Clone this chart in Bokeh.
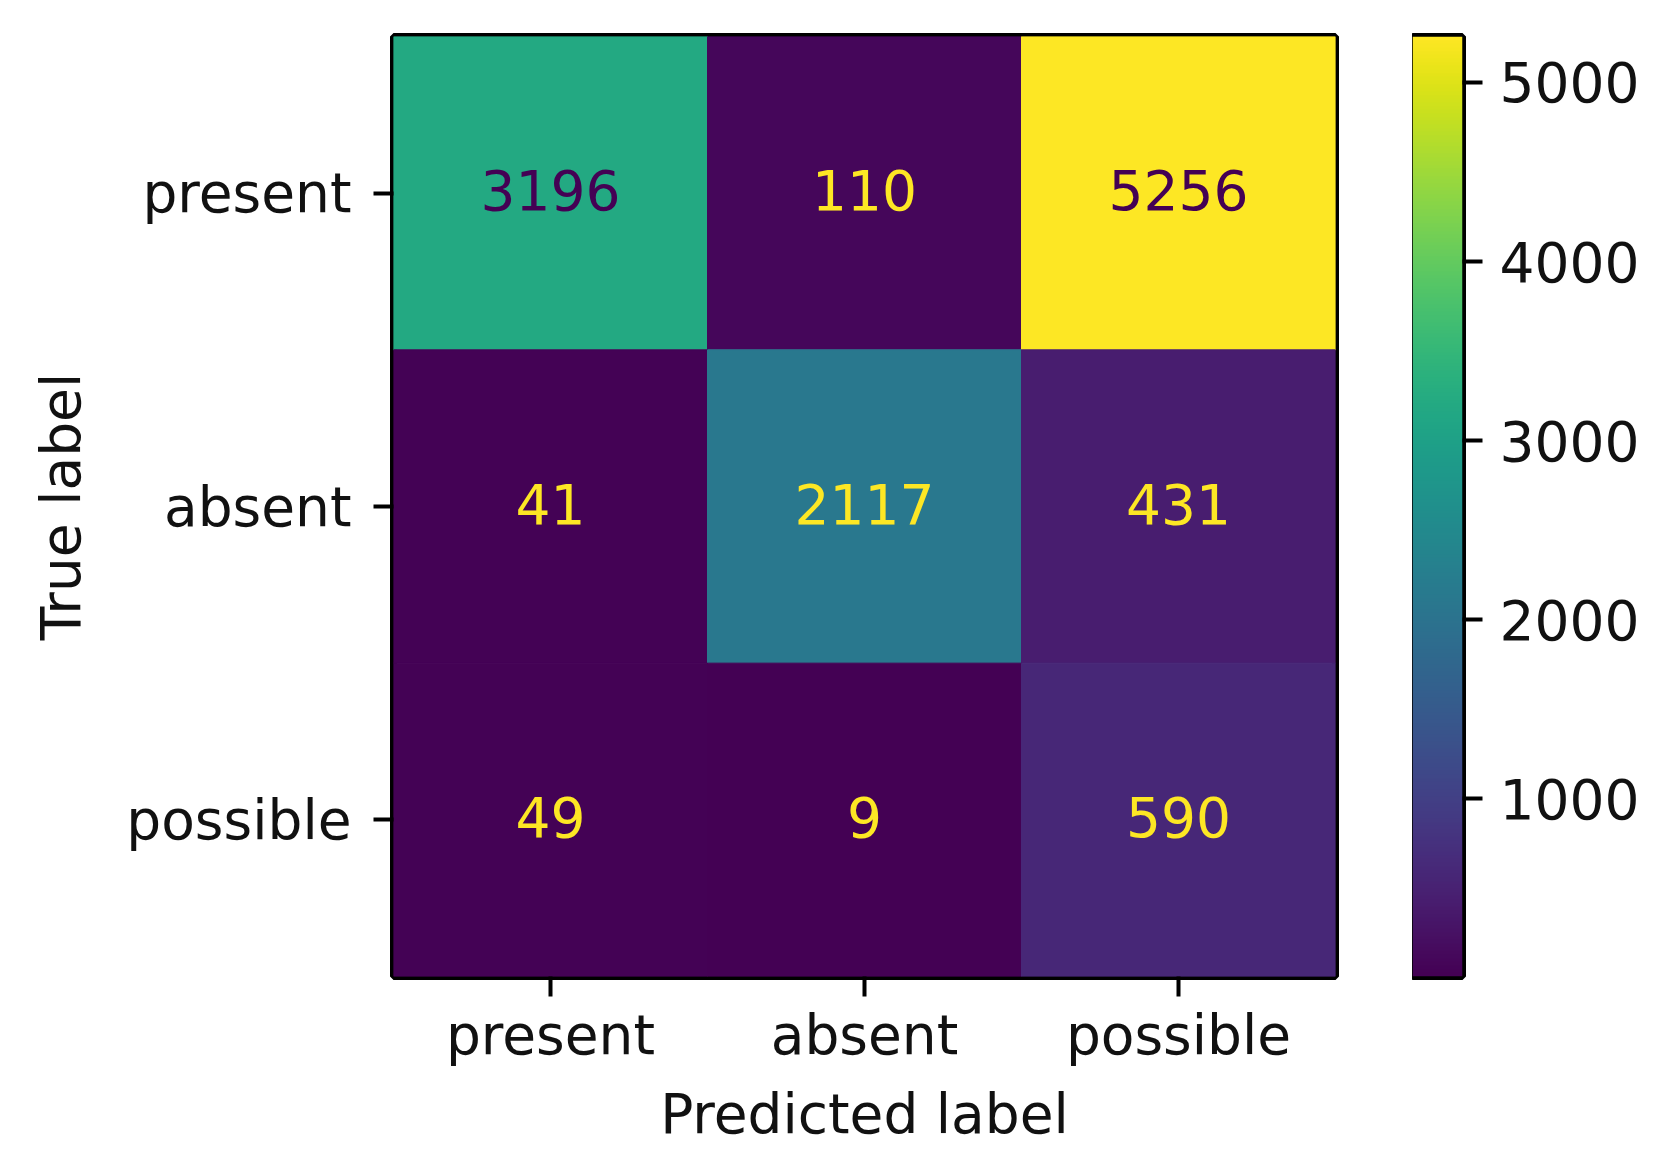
import numpy as np
from bokeh.plotting import figure
from bokeh.layouts import row
from bokeh.models import FactorRange, Range1d, LinearColorMapper, ColumnDataSource, FixedTicker
from bokeh.palettes import Viridis256
from bokeh.core.properties import value
from bokeh.embed import file_html
from bokeh.resources import INLINE

labels = ["present", "absent", "possible"]
true_labels = ["present", "present", "present", "absent", "absent", "absent", "possible", "possible", "possible"]
pred_labels = ["present", "absent", "possible", "present", "absent", "possible", "present", "absent", "possible"]
counts = [3196, 110, 5256, 41, 2117, 431, 49, 9, 590]
cbar_ticks = [1000, 2000, 3000, 4000, 5000]

FONT = "DejaVu Sans"
FS = "55px"

vmin, vmax = min(counts), max(counts)
mapper = LinearColorMapper(palette=Viridis256, low=vmin, high=vmax)
thresh = (vmin + vmax) / 2.0
text_colors = [Viridis256[0] if c > thresh else Viridis256[-1] for c in counts]

src = ColumnDataSource(dict(x=pred_labels, y=true_labels, c=counts,
                            t=[str(c) for c in counts], tc=text_colors))

p = figure(width=1412, height=1163,
           x_range=FactorRange(*labels), y_range=FactorRange(*labels[::-1]),
           output_backend="svg", toolbar_location=None,
           min_border_left=393, min_border_right=77, min_border_top=36, min_border_bottom=187)
p.rect(x="x", y="y", width=1, height=1, source=src,
       fill_color={"field": "c", "transform": mapper},
       line_color={"field": "c", "transform": mapper}, line_width=1)
p.text(x="x", y="y", text="t", source=src, text_color="tc",
       text_align="center", text_baseline="middle", y_offset=-3,
       text_font=value(FONT), text_font_size=FS)

p.grid.visible = False
p.outline_line_color = "black"
p.outline_line_width = 7
p.background_fill_color = "white"
p.border_fill_color = "white"

for ax in (p.xaxis[0], p.yaxis[0]):
    ax.axis_line_color = None
    ax.major_tick_line_color = "black"
    ax.major_tick_line_width = 4
    ax.major_tick_out = 20
    ax.major_tick_in = 0
    ax.minor_tick_line_color = None
    ax.major_label_text_font = FONT
    ax.major_label_text_font_size = FS
    ax.major_label_text_color = "#111111"
    ax.axis_label_text_font = FONT
    ax.axis_label_text_font_size = FS
    ax.axis_label_text_font_style = "normal"
    ax.axis_label_text_color = "#111111"

p.xaxis.axis_label = "Predicted label"
p.yaxis.axis_label = "True label"
p.xaxis.major_label_standoff = 6
p.xaxis.axis_label_standoff = 12
p.yaxis.major_label_standoff = 22
p.yaxis.axis_label_standoff = 30
p.yaxis.major_label_orientation = "horizontal"

# colorbar as its own small figure
cb = figure(width=266, height=1163, x_range=Range1d(0, 1), y_range=Range1d(vmin, vmax),
            output_backend="svg", toolbar_location=None,
            x_axis_location=None, y_axis_location="right",
            min_border_left=0, min_border_right=216, min_border_top=36, min_border_bottom=187)
grad = np.linspace(vmin, vmax, 256).reshape(256, 1)
cb.image(image=[grad], x=0, y=vmin, dw=1, dh=vmax - vmin, color_mapper=mapper)
cb.grid.visible = False
cb.outline_line_color = "black"
cb.outline_line_width = 7
cb.border_fill_color = "white"
ya = cb.yaxis[0]
ya.ticker = FixedTicker(ticks=cbar_ticks)
ya.axis_line_color = None
ya.major_tick_line_color = "black"
ya.major_tick_line_width = 4
ya.major_tick_out = 20
ya.major_tick_in = 0
ya.minor_tick_line_color = None
ya.major_label_text_font = FONT
ya.major_label_text_font_size = FS
ya.major_label_text_color = "#111111"
ya.major_label_standoff = 17

layout = row(p, cb)
open("out.html", "w").write(file_html(layout, INLINE))
